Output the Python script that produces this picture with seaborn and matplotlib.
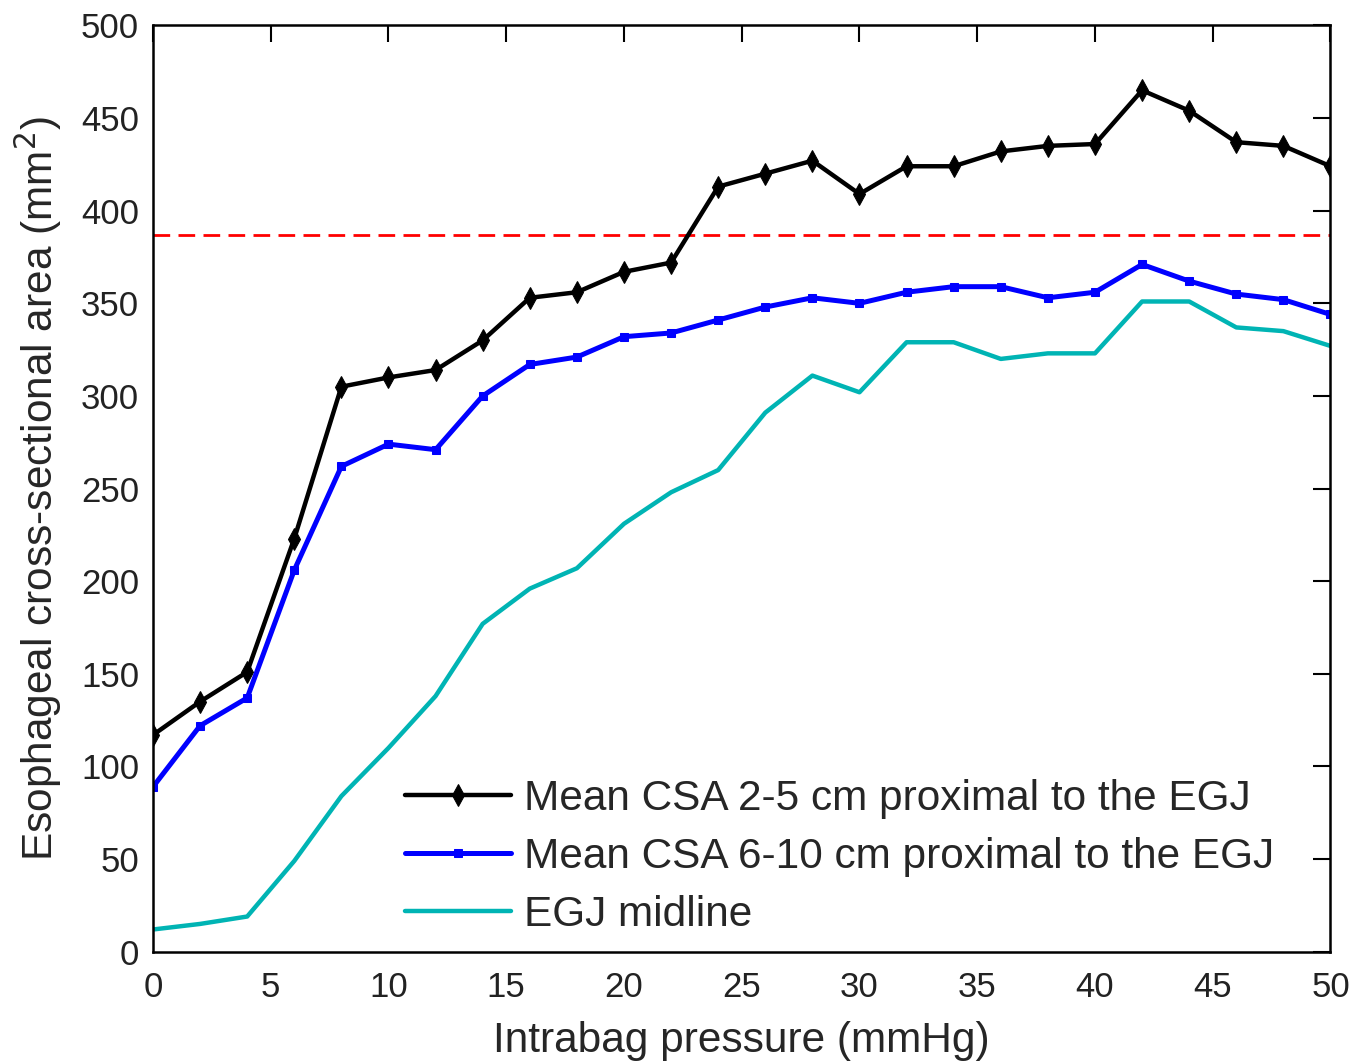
import pandas as pd
import matplotlib.pyplot as plt
import seaborn as sns

# data
pressure = [0, 2, 4, 6, 8, 10, 12, 14, 16, 18, 20, 22, 24, 26, 28, 30, 32, 34, 36, 38, 40, 42, 44, 46, 48, 50]
csa_2_5 = [117, 135, 151, 223, 305, 310, 314, 330, 353, 356, 367, 372, 413, 420, 427, 409,
           424, 424, 432, 435, 436, 465, 454, 437, 435, 424]
csa_6_10 = [89, 122, 137, 206, 262, 274, 271, 300, 317, 321, 332, 334, 341, 348, 353, 350,
            356, 359, 359, 353, 356, 371, 362, 355, 352, 344]
egj_midline = [12, 15, 19, 49, 84, 110, 138, 177, 196, 207, 231, 248, 260, 291, 311, 302,
               329, 329, 320, 323, 323, 351, 351, 337, 335, 327]
threshold = 387

labels = ['Mean CSA 2-5 cm proximal to the EGJ',
          'Mean CSA 6-10 cm proximal to the EGJ',
          'EGJ midline']

df = pd.DataFrame({'pressure': pressure, 'a': csa_2_5, 'b': csa_6_10, 'c': egj_midline})

sns.set_style('white')
plt.rcParams['font.family'] = ['Liberation Sans', 'DejaVu Sans']

fig = plt.figure(figsize=(13.66, 10.61), dpi=100)
ax = fig.add_axes([0.112, 0.103, 0.862, 0.873])

# three series
sns.lineplot(data=df, x='pressure', y='a', color='black', lw=3.2, marker='d',
             markersize=11, markeredgecolor='black', label=labels[0], ax=ax)
sns.lineplot(data=df, x='pressure', y='b', color='#0000ff', lw=3.6, marker='s',
             markersize=6, markeredgecolor='#0000ff', label=labels[1], ax=ax)
sns.lineplot(data=df, x='pressure', y='c', color='#00b4b4', lw=3.2, label=labels[2], ax=ax)

# threshold line
ax.axhline(threshold, color='#ff0000', lw=2, ls=(0, (6, 3)), zorder=1)

ax.set_xlim(0, 50)
ax.set_ylim(0, 500)
ax.set_xticks(range(0, 51, 5))
ax.set_yticks(range(0, 501, 50))

ax.tick_params(direction='in', length=12, width=1.5, labelsize=25,
               top=True, right=True, colors='black')
ax.tick_params(axis='x', pad=14)
ax.tick_params(axis='y', pad=10)
for t in ax.get_xticklabels() + ax.get_yticklabels():
    t.set_color('#222222')

ax.set_xlabel('Intrabag pressure (mmHg)', fontsize=30.5, labelpad=12)
ax.set_ylabel('Esophageal cross-sectional area (mm$^2$)', fontsize=30.5, labelpad=12)

# box
for spine in ax.spines.values():
    spine.set_visible(True)
    spine.set_color('black')
    spine.set_linewidth(1.8)

ax.legend(loc='lower left', bbox_to_anchor=(0.2, 0.0), frameon=False, fontsize=30.5,
          handlelength=2.5, handletextpad=0.3, labelspacing=0.42, borderaxespad=0)

fig.savefig('out.png', dpi=100, facecolor='white')
